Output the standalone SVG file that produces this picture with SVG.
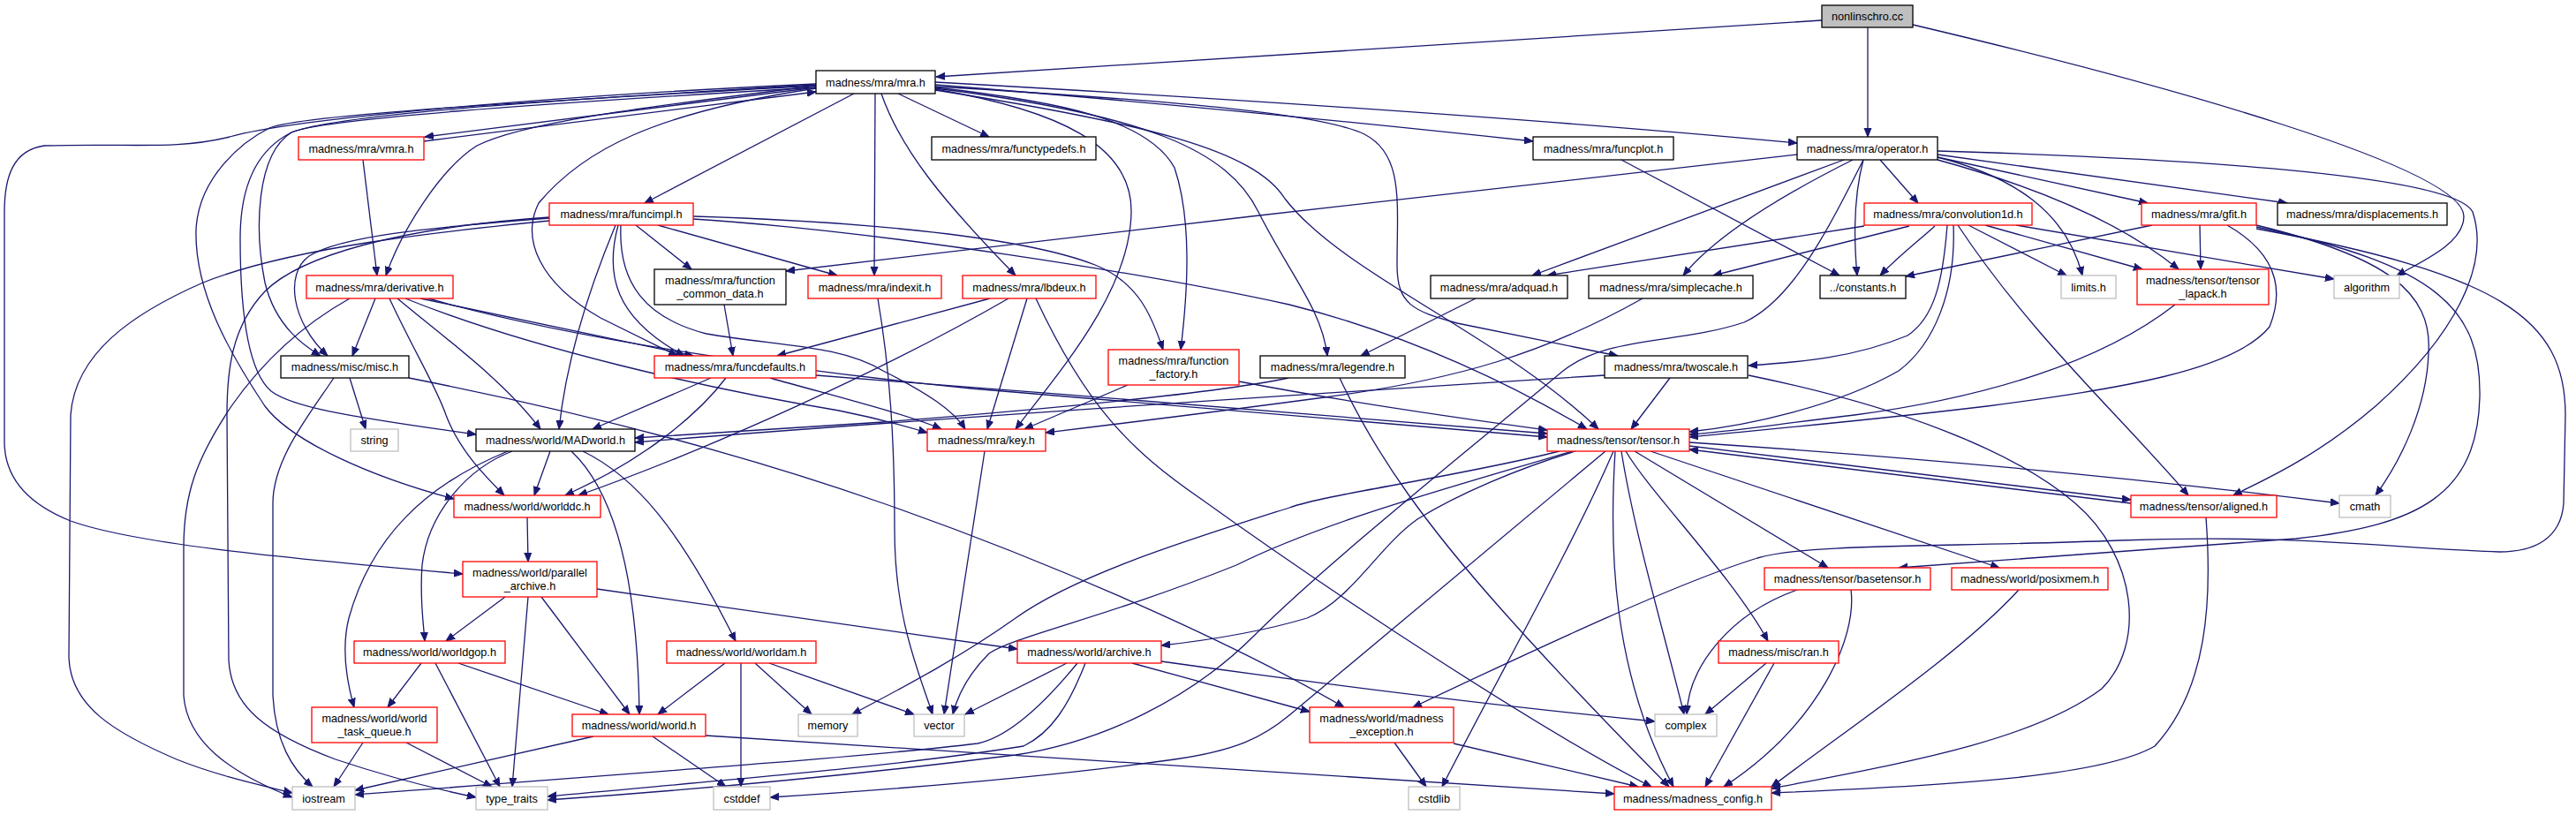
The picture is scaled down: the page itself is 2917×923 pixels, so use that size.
<svg xmlns="http://www.w3.org/2000/svg" width="2917" height="923" viewBox="0 0 2917 923">
<style>
.n rect{fill:#fff;stroke:#000;stroke-width:1.3}
.n.r rect{stroke:#ff0000}
.n.g rect{stroke:#bfbfbf}
.n.root rect{fill:#bfbfbf;stroke:#000}
.n text{font-family:"Liberation Sans",Arial,sans-serif;font-size:12.7px;text-anchor:middle;fill:#000}
#edges path{fill:none;stroke:#191970;stroke-width:1.3;marker-end:url(#a)}
</style>
<defs>
<marker id="a" markerWidth="11" markerHeight="10" refX="10" refY="4.5" orient="auto" markerUnits="userSpaceOnUse"><path d="M0,0.5 L10,4.5 L0,8.5 z" fill="#191970" stroke="#191970" stroke-width="1"/></marker>
</defs>
<rect width="2917" height="923" fill="#fff"/>
<g id="edges">
<path d="M2063,23 L1060,87"/>
<path d="M2115,31 L2115,155"/>
<path d="M2166,28 C2450,95 2790,190 2790,245 C2790,275 2745,295 2714,312"/>
<path d="M924,99 L481,155"/>
<path d="M480,160 L924,104"/>
<path d="M967,106 L730,230"/>
<path d="M991,106 L990,312"/>
<path d="M998,106 C1020,170 1070,230 1150,312"/>
<path d="M1017,106 L1120,155"/>
<path d="M1059,96 C1300,115 1550,140 1736,160"/>
<path d="M1059,93 C1450,115 1800,140 2035,162"/>
<path d="M1059,99 C1200,115 1300,135 1330,190 C1350,250 1345,330 1337,396"/>
<path d="M1059,101 C1200,125 1282,165 1281,240 C1280,330 1200,420 1150,486"/>
<path d="M1059,100 C1300,130 1390,170 1425,240 C1460,310 1497,350 1503,403"/>
<path d="M1059,102 C1300,140 1420,170 1455,225 C1520,310 1700,380 1810,486"/>
<path d="M1059,98 C1350,115 1500,130 1545,152 C1590,175 1582,230 1582,300 C1582,345 1600,352 1650,366 L1832,403"/>
<path d="M924,97 C770,117 600,135 540,165 C500,190 455,260 437,312"/>
<path d="M924,100 C740,128 660,170 610,230 C590,270 610,320 680,360 L767,403"/>
<path d="M924,96 C600,115 380,130 330,150 C290,175 288,260 300,320 C312,370 345,392 363,403"/>
<path d="M924,95 C600,110 330,135 260,155 C200,170 150,162 50,165 C15,170 5,200 5,240 L5,500 C5,540 30,570 80,590 C150,615 300,630 524,650"/>
<path d="M924,97 C600,115 340,130 305,145 C275,160 225,200 222,260 C220,330 260,400 300,460 C330,500 420,540 514,565"/>
<path d="M924,99 C600,118 360,135 330,150 C290,170 272,210 272,270 C272,350 280,420 307,443 C330,460 380,470 539,492"/>
<path d="M622,247 C480,258 385,268 350,290 C322,310 330,365 371,403"/>
<path d="M622,250 C500,262 330,280 230,320 C150,355 85,400 80,470 L78,745 C80,800 130,830 200,860 C250,880 300,890 331,898"/>
<path d="M622,246 C450,258 340,290 300,330 C262,370 257,420 257,470 L259,748 C262,800 300,830 380,860 C440,880 500,895 539,903"/>
<path d="M697,255 C670,320 642,400 633,486"/>
<path d="M700,255 C685,310 695,360 775,403"/>
<path d="M720,255 L783,305"/>
<path d="M745,255 L948,312"/>
<path d="M785,245 C950,250 1150,265 1240,300 C1290,320 1305,360 1317,396"/>
<path d="M785,248 C1000,262 1300,310 1460,345 C1600,380 1720,440 1797,486"/>
<path d="M703,255 C700,320 730,360 800,378 C880,392 950,390 1000,420 C1050,445 1080,465 1093,486"/>
<path d="M411,181 L427,312"/>
<path d="M425,338 L399,403"/>
<path d="M396,338 C330,375 290,420 262,460 C222,520 208,560 208,620 L208,788 C212,840 260,875 331,903"/>
<path d="M441,338 C470,400 495,440 505,470 C520,510 550,540 571,561"/>
<path d="M450,338 C500,380 570,430 612,486"/>
<path d="M476,338 L785,403"/>
<path d="M459,338 C600,395 800,440 950,465 C1000,475 1030,484 1050,490"/>
<path d="M485,338 C650,385 900,420 1100,440 C1400,465 1600,482 1752,495"/>
<path d="M396,428 L414,486"/>
<path d="M378,428 C350,470 309,520 309,570 L309,788 C312,840 330,870 354,891"/>
<path d="M463,428 C600,455 800,500 1000,570 C1200,640 1400,730 1522,801"/>
<path d="M805,428 L671,486"/>
<path d="M822,428 C790,470 730,520 640,561"/>
<path d="M872,428 C950,450 1030,470 1066,486"/>
<path d="M924,425 C1200,445 1500,472 1752,491"/>
<path d="M820,345 L830,403"/>
<path d="M994,338 C1008,420 1013,500 1013,600 C1013,700 1040,760 1056,809"/>
<path d="M1121,338 L880,403"/>
<path d="M1142,338 C1000,420 800,510 655,561"/>
<path d="M1163,338 L1118,486"/>
<path d="M1173,338 C1230,460 1280,510 1360,565 C1520,680 1750,830 1870,891"/>
<path d="M1277,436 L1160,486"/>
<path d="M1403,432 C1550,460 1700,480 1752,487"/>
<path d="M1459,428 C1380,445 1200,462 1000,478 C850,488 770,493 719,496"/>
<path d="M1517,428 C1560,520 1620,600 1700,690 C1780,780 1850,850 1890,891"/>
<path d="M1817,425 C1500,445 1000,478 719,501"/>
<path d="M1891,428 L1847,486"/>
<path d="M1980,425 C2150,460 2280,510 2350,570 C2420,630 2430,730 2380,780 C2300,840 2150,865 2006,893"/>
<path d="M1671,338 L1541,403"/>
<path d="M1860,338 C1750,400 1650,430 1500,450 C1350,470 1250,482 1184,490"/>
<path d="M2088,181 L1735,312"/>
<path d="M2098,181 C2010,225 1940,270 1906,312"/>
<path d="M2110,181 C2097,230 2100,280 2103,312"/>
<path d="M2129,181 L2172,230"/>
<path d="M2035,175 C1800,200 1200,270 890,307"/>
<path d="M2110,181 C2070,260 2030,340 1975,365 C1900,390 1820,380 1770,420 C1650,520 1500,640 1420,720 C1350,790 1250,840 1150,855 C950,880 750,897 620,906"/>
<path d="M2194,178 C2280,200 2340,240 2358,312"/>
<path d="M2194,181 C2300,210 2400,250 2467,305"/>
<path d="M2194,178 L2432,230"/>
<path d="M2194,175 L2590,230"/>
<path d="M2194,171 C2500,180 2780,200 2800,240 C2820,300 2780,380 2690,460 C2620,520 2560,545 2529,561"/>
<path d="M1836,181 L2083,312"/>
<path d="M2111,256 L1752,312"/>
<path d="M2162,256 L1940,312"/>
<path d="M2191,256 C2170,275 2150,290 2129,312"/>
<path d="M2205,255 C2200,320 2190,360 2160,380 C2100,405 2040,410 1980,414"/>
<path d="M2212,255 C2215,330 2190,390 2150,420 C2080,460 1980,482 1913,489"/>
<path d="M2217,255 C2300,380 2400,470 2478,561"/>
<path d="M2229,255 L2340,312"/>
<path d="M2248,255 L2426,305"/>
<path d="M2283,255 L2643,316"/>
<path d="M2437,255 L2158,313"/>
<path d="M2491,255 L2492,305"/>
<path d="M2522,255 C2571,283 2590,320 2570,370 C2530,420 2400,440 2250,460 C2100,478 1980,488 1913,495"/>
<path d="M2555,255 C2700,290 2755,330 2750,400 C2748,460 2720,520 2690,561"/>
<path d="M2555,257 C2760,300 2810,350 2808,450 C2805,560 2740,595 2600,610 C2400,625 2250,635 2150,643"/>
<path d="M2555,259 C2830,310 2905,360 2905,470 L2903,570 C2900,610 2870,625 2830,625 C2700,620 2600,605 2400,612 C2200,620 2050,615 1990,632 C1900,660 1750,730 1600,801"/>
<path d="M2463,345 C2380,410 2250,450 2100,470 C2000,482 1950,490 1913,492"/>
<path d="M1913,505 L2413,566"/>
<path d="M2413,570 L1913,509"/>
<path d="M1913,501 C2200,520 2450,545 2649,570"/>
<path d="M2498,586 C2505,680 2500,780 2440,845 C2380,880 2200,890 2006,898"/>
<path d="M2286,668 C2220,740 2100,820 2006,891"/>
<path d="M1869,511 L2264,643"/>
<path d="M1851,511 L2070,643"/>
<path d="M1841,511 C1870,560 1960,650 2002,726"/>
<path d="M1836,511 C1850,600 1880,700 1907,809"/>
<path d="M1829,511 C1822,620 1825,760 1895,891"/>
<path d="M1827,511 C1780,620 1700,760 1633,891"/>
<path d="M1818,511 L1460,810 C1430,835 1400,850 1330,860 C1150,885 950,898 872,903"/>
<path d="M1766,511 C1650,540 1500,560 1460,575 C1350,610 1220,650 1150,700 C1080,750 1000,790 965,809"/>
<path d="M1780,511 C1650,550 1500,590 1400,640 C1250,700 1150,720 1120,740 C1100,760 1085,785 1079,809"/>
<path d="M1784,511 C1720,530 1650,560 1605,588 C1560,620 1530,680 1480,700 C1420,718 1360,726 1315,731"/>
<path d="M1579,841 L1615,891"/>
<path d="M1646,842 L1855,891"/>
<path d="M2000,751 L1931,809"/>
<path d="M2009,751 L1931,891"/>
<path d="M2035,668 C1959,695 1912,755 1910,809"/>
<path d="M2096,668 C2103,722 2060,820 1952,891"/>
<path d="M1208,751 L1093,809"/>
<path d="M1220,751 C1180,800 1140,835 1107,842 C1000,855 800,870 402,900"/>
<path d="M1229,751 C1210,800 1190,830 1159,845 C1000,870 800,885 620,902"/>
<path d="M1282,751 L1483,806"/>
<path d="M1315,749 C1500,775 1700,800 1874,817"/>
<path d="M821,751 L745,809"/>
<path d="M839,751 L839,891"/>
<path d="M855,751 L919,809"/>
<path d="M871,751 L1035,809"/>
<path d="M672,834 L402,895"/>
<path d="M739,834 L822,891"/>
<path d="M799,833 L1828,899"/>
<path d="M1115,511 L1069,809"/>
<path d="M623,511 L605,561"/>
<path d="M580,511 C530,530 485,580 478,640 C475,680 480,710 481,726"/>
<path d="M575,511 C480,550 420,610 395,700 C385,740 395,780 401,801"/>
<path d="M647,511 C694,555 722,650 724,809"/>
<path d="M660,511 C720,540 770,600 833,726"/>
<path d="M597,586 L598,636"/>
<path d="M572,676 L505,726"/>
<path d="M598,676 L580,891"/>
<path d="M613,676 L713,809"/>
<path d="M676,667 L1152,735"/>
<path d="M477,751 L439,801"/>
<path d="M493,751 L566,891"/>
<path d="M519,751 L689,809"/>
<path d="M411,841 L378,891"/>
<path d="M460,841 L557,891"/>
</g>
<g id="n0" class="n root"><rect x="2063" y="6" width="103" height="25"/><text x="2114.5" y="23">nonlinschro.cc</text></g>
<g id="n1" class="n"><rect x="924" y="80" width="135" height="26"/><text x="991.5" y="97.5">madness/mra/mra.h</text></g>
<g id="n2" class="n r"><rect x="338" y="155" width="142" height="26"/><text x="409" y="172.5">madness/mra/vmra.h</text></g>
<g id="n3" class="n"><rect x="1055" y="155" width="186" height="26"/><text x="1148" y="172.5">madness/mra/functypedefs.h</text></g>
<g id="n4" class="n"><rect x="1736" y="155" width="159" height="26"/><text x="1815.5" y="172.5">madness/mra/funcplot.h</text></g>
<g id="n5" class="n"><rect x="2035" y="155" width="159" height="26"/><text x="2114.5" y="172.5">madness/mra/operator.h</text></g>
<g id="n6" class="n r"><rect x="622" y="230" width="163" height="25"/><text x="703.5" y="247">madness/mra/funcimpl.h</text></g>
<g id="n7" class="n r"><rect x="2111" y="230" width="190" height="25"/><text x="2206" y="247">madness/mra/convolution1d.h</text></g>
<g id="n8" class="n r"><rect x="2425" y="230" width="130" height="25"/><text x="2490" y="247">madness/mra/gfit.h</text></g>
<g id="n9" class="n"><rect x="2579" y="230" width="192" height="25"/><text x="2675" y="247">madness/mra/displacements.h</text></g>
<g id="n10" class="n r"><rect x="347" y="312" width="166" height="26"/><text x="430" y="329.5">madness/mra/derivative.h</text></g>
<g id="n11" class="n"><rect x="741" y="305" width="149" height="40"/><text x="815.5" y="321.5">madness/mra/function</text><text x="815.5" y="336.5">_common_data.h</text></g>
<g id="n12" class="n r"><rect x="915" y="312" width="151" height="26"/><text x="990.5" y="329.5">madness/mra/indexit.h</text></g>
<g id="n13" class="n r"><rect x="1090" y="312" width="151" height="26"/><text x="1165.5" y="329.5">madness/mra/lbdeux.h</text></g>
<g id="n14" class="n"><rect x="1620" y="312" width="155" height="26"/><text x="1697.5" y="329.5">madness/mra/adquad.h</text></g>
<g id="n15" class="n"><rect x="1799" y="312" width="186" height="26"/><text x="1892" y="329.5">madness/mra/simplecache.h</text></g>
<g id="n16" class="n"><rect x="2061" y="312" width="97" height="26"/><text x="2109.5" y="329.5">../constants.h</text></g>
<g id="n17" class="n g"><rect x="2334" y="312" width="62" height="26"/><text x="2365" y="329.5">limits.h</text></g>
<g id="n18" class="n r"><rect x="2420" y="305" width="149" height="40"/><text x="2494.5" y="321.5">madness/tensor/tensor</text><text x="2494.5" y="336.5">_lapack.h</text></g>
<g id="n19" class="n g"><rect x="2643" y="312" width="74" height="26"/><text x="2680" y="329.5">algorithm</text></g>
<g id="n20" class="n"><rect x="318" y="403" width="145" height="25"/><text x="390.5" y="420">madness/misc/misc.h</text></g>
<g id="n21" class="n r"><rect x="741" y="403" width="183" height="25"/><text x="832.5" y="420">madness/mra/funcdefaults.h</text></g>
<g id="n22" class="n r"><rect x="1255" y="396" width="148" height="40"/><text x="1329" y="412.5">madness/mra/function</text><text x="1329" y="427.5">_factory.h</text></g>
<g id="n23" class="n"><rect x="1427" y="403" width="164" height="25"/><text x="1509" y="420">madness/mra/legendre.h</text></g>
<g id="n24" class="n"><rect x="1817" y="403" width="162" height="25"/><text x="1898" y="420">madness/mra/twoscale.h</text></g>
<g id="n25" class="n g"><rect x="397" y="486" width="54" height="25"/><text x="424" y="503">string</text></g>
<g id="n26" class="n"><rect x="539" y="486" width="180" height="25"/><text x="629" y="503">madness/world/MADworld.h</text></g>
<g id="n27" class="n r"><rect x="1050" y="486" width="134" height="25"/><text x="1117" y="503">madness/mra/key.h</text></g>
<g id="n28" class="n r"><rect x="1752" y="486" width="161" height="25"/><text x="1832.5" y="503">madness/tensor/tensor.h</text></g>
<g id="n29" class="n r"><rect x="514" y="561" width="166" height="25"/><text x="597" y="578">madness/world/worlddc.h</text></g>
<g id="n30" class="n r"><rect x="2413" y="561" width="165" height="25"/><text x="2495.5" y="578">madness/tensor/aligned.h</text></g>
<g id="n31" class="n g"><rect x="2649" y="561" width="58" height="25"/><text x="2678" y="578">cmath</text></g>
<g id="n32" class="n r"><rect x="524" y="636" width="152" height="40"/><text x="600" y="652.5">madness/world/parallel</text><text x="600" y="667.5">_archive.h</text></g>
<g id="n33" class="n r"><rect x="1998" y="643" width="188" height="25"/><text x="2092" y="660">madness/tensor/basetensor.h</text></g>
<g id="n34" class="n r"><rect x="2210" y="643" width="177" height="25"/><text x="2298.5" y="660">madness/world/posixmem.h</text></g>
<g id="n35" class="n r"><rect x="401" y="726" width="171" height="25"/><text x="486.5" y="743">madness/world/worldgop.h</text></g>
<g id="n36" class="n r"><rect x="755" y="726" width="169" height="25"/><text x="839.5" y="743">madness/world/worldam.h</text></g>
<g id="n37" class="n r"><rect x="1152" y="726" width="163" height="25"/><text x="1233.5" y="743">madness/world/archive.h</text></g>
<g id="n38" class="n r"><rect x="1946" y="726" width="136" height="25"/><text x="2014" y="743">madness/misc/ran.h</text></g>
<g id="n39" class="n r"><rect x="353" y="801" width="142" height="40"/><text x="424" y="817.5">madness/world/world</text><text x="424" y="832.5">_task_queue.h</text></g>
<g id="n40" class="n r"><rect x="648" y="809" width="151" height="25"/><text x="723.5" y="826">madness/world/world.h</text></g>
<g id="n41" class="n g"><rect x="904" y="809" width="67" height="25"/><text x="937.5" y="826">memory</text></g>
<g id="n42" class="n g"><rect x="1035" y="809" width="57" height="25"/><text x="1063.5" y="826">vector</text></g>
<g id="n43" class="n r"><rect x="1483" y="801" width="163" height="40"/><text x="1564.5" y="817.5">madness/world/madness</text><text x="1564.5" y="832.5">_exception.h</text></g>
<g id="n44" class="n g"><rect x="1874" y="809" width="70" height="25"/><text x="1909" y="826">complex</text></g>
<g id="n45" class="n g"><rect x="331" y="891" width="71" height="26"/><text x="366.5" y="908.5">iostream</text></g>
<g id="n46" class="n g"><rect x="539" y="891" width="81" height="26"/><text x="579.5" y="908.5">type_traits</text></g>
<g id="n47" class="n g"><rect x="808" y="891" width="64" height="26"/><text x="840" y="908.5">cstddef</text></g>
<g id="n48" class="n g"><rect x="1595" y="891" width="58" height="26"/><text x="1624" y="908.5">cstdlib</text></g>
<g id="n49" class="n r"><rect x="1828" y="891" width="178" height="26"/><text x="1917" y="908.5">madness/madness_config.h</text></g>
</svg>
